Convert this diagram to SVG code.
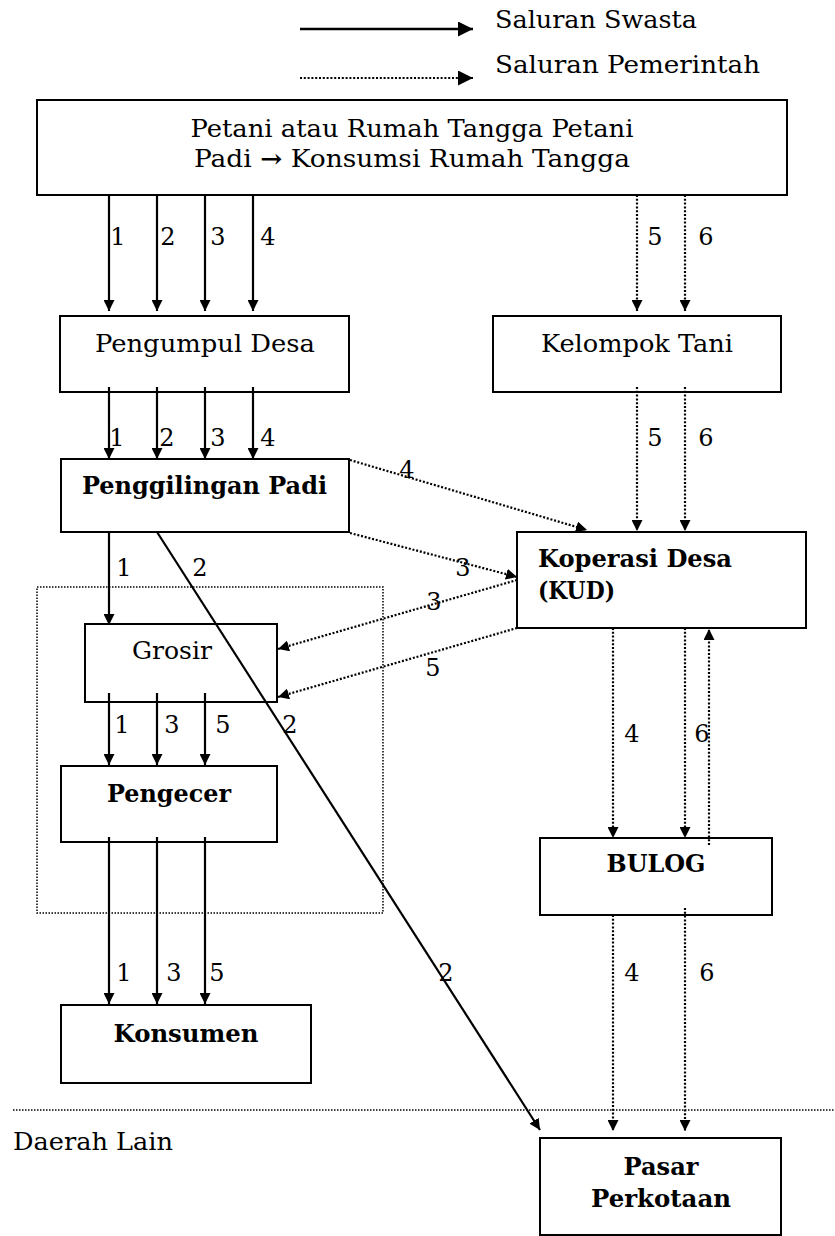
<svg xmlns="http://www.w3.org/2000/svg" width="835" height="1236" viewBox="0 0 835 1236">
<style>
.box{fill:#fff;stroke:#000;stroke-width:2}
.t{font-family:"DejaVu Serif","Liberation Serif",serif;font-size:24px;fill:#000}
.b{font-weight:bold}
.m{text-anchor:middle}
.n{font-family:"DejaVu Serif","Liberation Serif",serif;font-size:24px;fill:#000;text-anchor:middle}
.s{stroke:#000;stroke-width:2.2;fill:none;marker-end:url(#ah)}
.d{stroke:#000;stroke-width:2.2;stroke-dasharray:2 1.8;fill:none;marker-end:url(#ah)}
.thin{stroke:#000;stroke-width:1.5;stroke-dasharray:1.5 1.5;fill:none}
</style>
<defs>
<marker id="ah" viewBox="0 0 10 10" refX="10" refY="5" markerWidth="11" markerHeight="11" markerUnits="userSpaceOnUse" orient="auto"><path d="M0,0 L10,5 L0,10 z" fill="#000"/></marker>
<marker id="ahl" viewBox="0 0 10 10" refX="10" refY="5" markerWidth="16" markerHeight="15" markerUnits="userSpaceOnUse" orient="auto"><path d="M0,0 L10,5 L0,10 z" fill="#000"/></marker>
</defs>

<g id="legend">
<line x1="300" y1="29" x2="473" y2="29" stroke="#000" stroke-width="2.5" marker-end="url(#ahl)"/>
<text class="t" x="495" y="28" textLength="202" lengthAdjust="spacingAndGlyphs">Saluran Swasta</text>
<line x1="300" y1="78" x2="473" y2="78" stroke="#000" stroke-width="2.2" stroke-dasharray="2 1.8" marker-end="url(#ahl)"/>
<text class="t" x="495" y="73" textLength="265" lengthAdjust="spacingAndGlyphs">Saluran Pemerintah</text>
</g>

<g id="group-area">
<rect x="37" y="587" width="346" height="326" class="thin"/>
<line x1="13" y1="1110" x2="835" y2="1110" class="thin"/>
<text class="t" x="13" y="1150" textLength="160" lengthAdjust="spacingAndGlyphs">Daerah Lain</text>
</g>

<g id="petani">
<rect x="37" y="100" width="750" height="95" class="box"/>
<text class="t m" x="412" y="137" textLength="443" lengthAdjust="spacingAndGlyphs">Petani atau Rumah Tangga Petani</text>
<text class="t m" x="412" y="167" textLength="436" lengthAdjust="spacingAndGlyphs">Padi <tspan font-weight="bold">→</tspan> Konsumsi Rumah Tangga</text>
</g>

<g id="pengumpul">
<rect x="60" y="316" width="289" height="76" class="box"/>
<text class="t m" x="205" y="352" textLength="220" lengthAdjust="spacingAndGlyphs">Pengumpul Desa</text>
</g>

<g id="kelompok">
<rect x="493" y="316" width="288" height="76" class="box"/>
<text class="t m" x="637" y="352" textLength="192" lengthAdjust="spacingAndGlyphs">Kelompok Tani</text>
</g>

<g id="penggilingan">
<rect x="61" y="459" width="288" height="73" class="box"/>
<text class="t b m" x="204.5" y="494" textLength="245" lengthAdjust="spacingAndGlyphs">Penggilingan Padi</text>
</g>

<g id="kud">
<rect x="517" y="532" width="289" height="96" class="box"/>
<text class="t b" x="538" y="567" textLength="194" lengthAdjust="spacingAndGlyphs">Koperasi Desa</text>
<text class="t b" x="538" y="599" textLength="77" lengthAdjust="spacingAndGlyphs">(KUD)</text>
</g>

<g id="grosir">
<rect x="85" y="624" width="192" height="78" class="box"/>
<text class="t m" x="172" y="659" textLength="80" lengthAdjust="spacingAndGlyphs">Grosir</text>
</g>

<g id="pengecer">
<rect x="61" y="766" width="216" height="76" class="box"/>
<text class="t b m" x="169" y="802" textLength="124" lengthAdjust="spacingAndGlyphs">Pengecer</text>
</g>

<g id="konsumen">
<rect x="61" y="1005" width="250" height="78" class="box"/>
<text class="t b m" x="186" y="1042" textLength="145" lengthAdjust="spacingAndGlyphs">Konsumen</text>
</g>

<g id="bulog">
<rect x="540" y="838" width="232" height="77" class="box"/>
<text class="t b m" x="656" y="872" textLength="99" lengthAdjust="spacingAndGlyphs">BULOG</text>
</g>

<g id="pasar">
<rect x="540" y="1138" width="241" height="97" class="box"/>
<text class="t b m" x="661" y="1175" textLength="75" lengthAdjust="spacingAndGlyphs">Pasar</text>
<text class="t b m" x="661" y="1207" textLength="140" lengthAdjust="spacingAndGlyphs">Perkotaan</text>
</g>

<g id="connectors">
<line x1="109" y1="194" x2="109" y2="311" class="s"/>
<line x1="157" y1="194" x2="157" y2="311" class="s"/>
<line x1="205" y1="194" x2="205" y2="311" class="s"/>
<line x1="253" y1="194" x2="253" y2="311" class="s"/>
<line x1="637" y1="195" x2="637" y2="311" class="d"/>
<line x1="685" y1="195" x2="685" y2="311" class="d"/>

<line x1="109" y1="387" x2="109" y2="459" class="s"/>
<line x1="157" y1="387" x2="157" y2="459" class="s"/>
<line x1="205" y1="387" x2="205" y2="459" class="s"/>
<line x1="253" y1="387" x2="253" y2="459" class="s"/>
<line x1="637" y1="387" x2="637" y2="531" class="d"/>
<line x1="685" y1="387" x2="685" y2="531" class="d"/>

<line x1="350" y1="460" x2="587" y2="530" class="d"/>
<line x1="350" y1="533" x2="517" y2="577" class="d"/>
<line x1="517" y1="580" x2="278" y2="649" class="d"/>
<line x1="517" y1="628" x2="278" y2="697" class="d"/>

<line x1="109" y1="532" x2="109" y2="625" class="s"/>
<line x1="157" y1="532" x2="540" y2="1130" class="s"/>

<line x1="109" y1="693" x2="109" y2="765" class="s"/>
<line x1="157" y1="693" x2="157" y2="765" class="s"/>
<line x1="205" y1="693" x2="205" y2="765" class="s"/>

<line x1="109" y1="837" x2="109" y2="1004" class="s"/>
<line x1="157" y1="837" x2="157" y2="1004" class="s"/>
<line x1="205" y1="837" x2="205" y2="1004" class="s"/>

<line x1="613" y1="628" x2="613" y2="838" class="d"/>
<line x1="685" y1="628" x2="685" y2="838" class="d"/>
<line x1="709" y1="845" x2="709" y2="629" class="d"/>

<line x1="613" y1="915" x2="613" y2="1131" class="d"/>
<line x1="685" y1="908" x2="685" y2="1131" class="d"/>
</g>

<g id="labels">
<text class="n" x="118" y="245">1</text>
<text class="n" x="168" y="245">2</text>
<text class="n" x="218" y="245">3</text>
<text class="n" x="268" y="245">4</text>
<text class="n" x="655" y="245">5</text>
<text class="n" x="706" y="245">6</text>

<text class="n" x="117" y="446">1</text>
<text class="n" x="167" y="446">2</text>
<text class="n" x="218" y="446">3</text>
<text class="n" x="268" y="446">4</text>
<text class="n" x="655" y="446">5</text>
<text class="n" x="706" y="446">6</text>

<text class="n" x="407" y="478">4</text>
<text class="n" x="124" y="576">1</text>
<text class="n" x="200" y="576">2</text>
<text class="n" x="463" y="576">3</text>
<text class="n" x="434" y="610">3</text>
<text class="n" x="433" y="676">5</text>

<text class="n" x="122" y="733">1</text>
<text class="n" x="172" y="733">3</text>
<text class="n" x="223" y="733">5</text>
<text class="n" x="290" y="733">2</text>
<text class="n" x="632" y="742">4</text>
<text class="n" x="702" y="742">6</text>

<text class="n" x="124" y="981">1</text>
<text class="n" x="174" y="981">3</text>
<text class="n" x="217" y="981">5</text>
<text class="n" x="446" y="981">2</text>
<text class="n" x="632" y="981">4</text>
<text class="n" x="707" y="981">6</text>
</g>
</svg>
